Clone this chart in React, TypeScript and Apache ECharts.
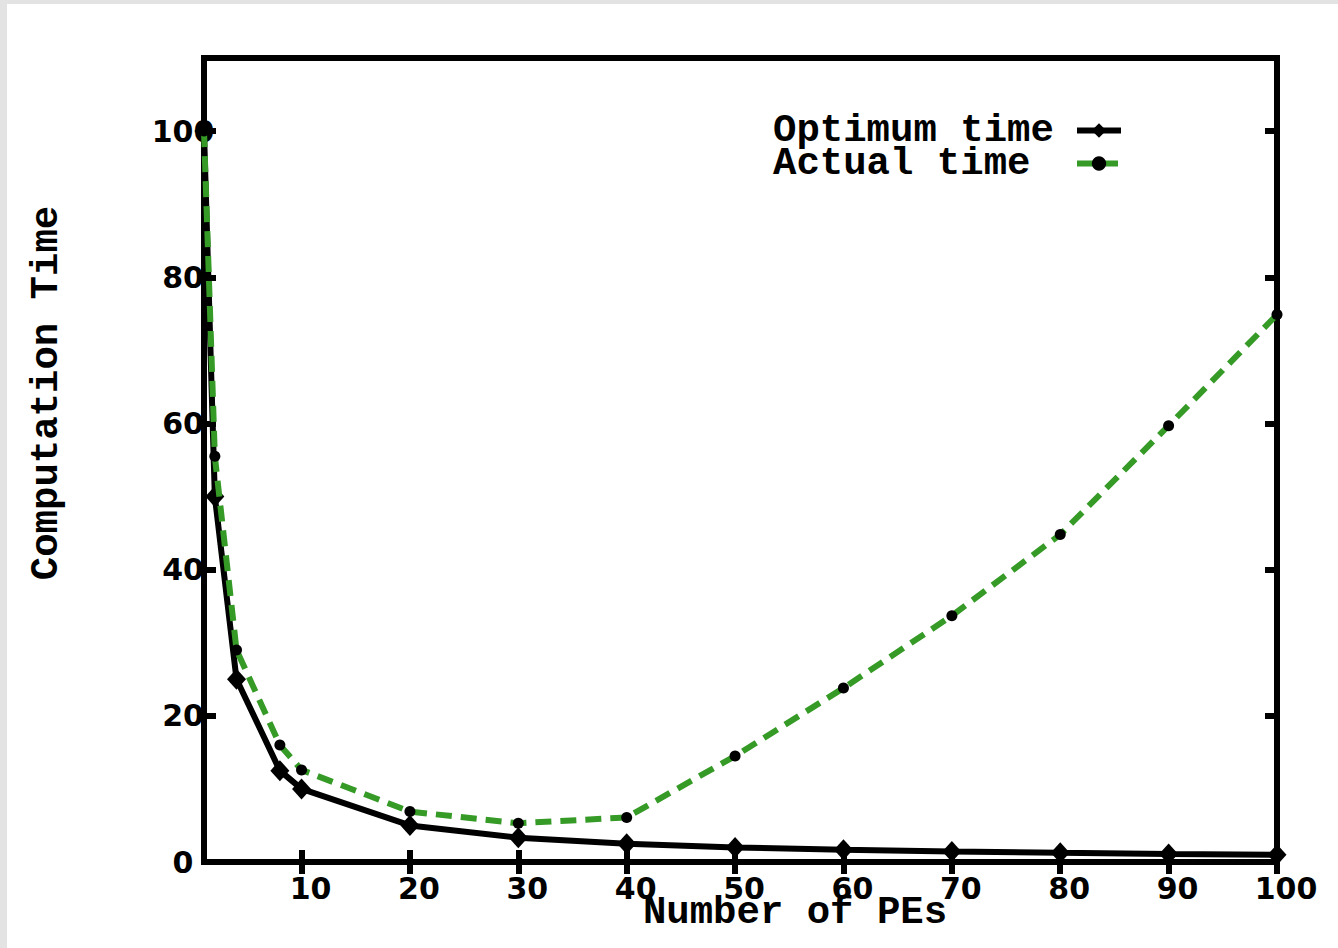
import React, { useEffect, useRef } from "react";
import * as echarts from "echarts";

const peCounts = [1, 2, 4, 8, 10, 20, 30, 40, 50, 60, 70, 80, 90, 100];
const optimumTime = [100, 50, 25, 12.5, 10, 5, 3.33, 2.5, 2, 1.67, 1.43, 1.25, 1.11, 1];
const actualTime = [100, 55.5, 29, 16, 12.6, 6.9, 5.3, 6.1, 14.5, 23.8, 33.7, 44.8, 59.7, 74.9];
const xTicks = [10, 20, 30, 40, 50, 60, 70, 80, 90, 100];
const yTicks = [0, 20, 40, 60, 80, 100];
const seriesNames = ["Optimum time", "Actual time"];
const xTitle = "Number of PEs";
const yTitle = "Computation Time";

const GREEN = "#359a26";
const MONO = "'Liberation Mono', 'Courier New', monospace";
const SANS = "'DejaVu Sans', sans-serif";

export default function App() {
  const ref = useRef<HTMLDivElement>(null);
  useEffect(() => {
    if (!ref.current) return;
    const chart = echarts.init(ref.current, null, { renderer: "svg" });
    const tickStyle = { show: true, inside: true, length: 12, lineStyle: { color: "#000", width: 6 } };
    const option: any = {
      animation: false,
      backgroundColor: "#e3e3e3",
      grid: {
        left: 204,
        right: 61,
        top: 58,
        bottom: 86,
        show: true,
        borderColor: "#000",
        borderWidth: 6,
        backgroundColor: "transparent",
      },
      graphic: [
        { type: "rect", z: -10, shape: { x: 7, y: 4, width: 1331, height: 944 }, style: { fill: "#fff" } },
        {
          type: "text",
          x: 795,
          y: 913,
          style: { text: xTitle, font: `bold 39px ${MONO}`, fill: "#000", textAlign: "center", textVerticalAlign: "middle" },
        },
        {
          type: "text",
          x: 47,
          y: 393,
          rotation: Math.PI / 2,
          style: { text: yTitle, font: `bold 39px ${MONO}`, fill: "#000", textAlign: "center", textVerticalAlign: "middle" },
        },
      ],
      legend: {
        left: 773,
        top: 111,
        orient: "vertical",
        align: "right",
        padding: 0,
        itemGap: -6,
        itemWidth: 44,
        itemHeight: 18,
        data: seriesNames,
        lineStyle: { width: 6 },
        formatter: (n: string) => `{t|${n}}`,
        textStyle: {
          lineHeight: 33,
          fontSize: 39,
          rich: {
            t: {
              width: 299,
              align: "left",
              lineHeight: 33,
              height: 33,
              fontFamily: MONO,
              fontWeight: "bold",
              fontSize: 39,
              color: "#000",
            },
          },
        },
      },
      xAxis: [
        {
          type: "value",
          min: 1,
          max: 100,
          axisLine: { show: false },
          axisTick: { ...tickStyle, customValues: xTicks },
          splitLine: { show: false },
          axisLabel: {
            customValues: xTicks,
            margin: 11,
            padding: [0, 0, 0, 18],
            fontFamily: SANS,
            fontWeight: "bold",
            fontSize: 30,
            color: "#000",
          },
        },
        {
          type: "value",
          position: "top",
          min: 1,
          max: 100,
          axisLine: { show: false },
          axisTick: { ...tickStyle, customValues: xTicks },
          axisLabel: { show: false },
          splitLine: { show: false },
        },
      ],
      yAxis: [
        {
          type: "value",
          min: 0,
          max: 110,
          axisLine: { show: false },
          axisTick: { ...tickStyle, customValues: yTicks },
          splitLine: { show: false },
          axisLabel: {
            customValues: yTicks,
            align: "center",
            margin: 21,
            fontFamily: SANS,
            fontWeight: "bold",
            fontSize: 30,
            color: "#000",
          },
        },
        {
          type: "value",
          position: "right",
          min: 0,
          max: 110,
          axisLine: { show: false },
          axisTick: { ...tickStyle, customValues: yTicks },
          axisLabel: { show: false },
          splitLine: { show: false },
        },
      ],
      series: [
        {
          name: seriesNames[0],
          type: "line",
          data: peCounts.map((p, i) => [p, optimumTime[i]]),
          clip: false,
          symbol: "diamond",
          symbolSize: [19, 21],
          itemStyle: { color: "#000" },
          lineStyle: { color: "#000", width: 6 },
          z: 3,
        },
        {
          name: seriesNames[1],
          type: "line",
          data: peCounts.map((p, i) => [p, actualTime[i]]),
          clip: false,
          symbol: "circle",
          symbolSize: 11,
          itemStyle: { color: "#000" },
          lineStyle: { color: GREEN, width: 6, type: [16, 9] },
          z: 4,
        },
      ],
    };
    chart.setOption(option);
    return () => chart.dispose();
  }, []);
  return <div ref={ref} style={{ position: "fixed", left: 0, top: 0, width: 1338, height: 948 }} />;
}
